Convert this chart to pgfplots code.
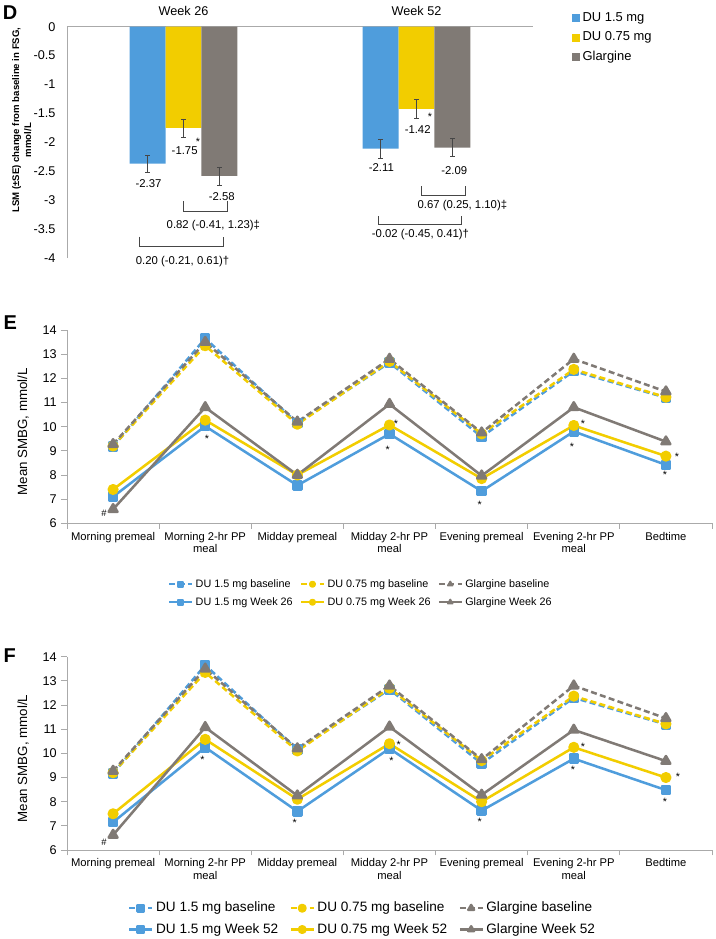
\documentclass[border=0pt]{standalone}
\usepackage{pgfplots}
\pgfplotsset{compat=1.18}
\usepackage{fontspec}
\setmainfont{Liberation Sans}
\definecolor{dublue}{RGB}{79,157,220}
\definecolor{duyel}{RGB}{242,205,0}
\definecolor{glgray}{RGB}{128,122,117}
\definecolor{axgray}{RGB}{170,170,170}
\definecolor{ebar}{RGB}{70,70,70}
\newcommand\fs[1]{\fontsize{#1}{#1}\selectfont}
\tikzset{
  star/.style={font=\fs{8}, inner sep=0pt, yshift=-2pt},
  lbl/.style={font=\fs{8.5}, inner sep=0pt},
  brk/.style={draw=ebar, line width=0.5pt},
}
\pgfplotsset{
  /pgf/number format/assume math mode=true,
  base/.style={line width=1.9pt, line join=round, dash pattern=on 4.5pt off 2.5pt, mark options={solid}},
  wk/.style={line width=1.9pt, line join=round},
  bsq/.style={color=dublue, mark=square*, mark size=3pt},
  ycir/.style={color=duyel, mark=*, mark size=3.2pt},
  gtri/.style={color=glgray, mark=triangle*, mark size=3.8pt},
  linechart/.style={
    scale only axis, width=483.75pt, height=144.975pt, anchor=south west,
    xmin=-0.5, xmax=6.5, ymin=6, ymax=14,
    axis x line*=bottom, axis y line*=left,
    axis line style={axgray, line width=0.7pt},
    xtick={0,...,6},
    xticklabels={Morning premeal,{Morning 2-hr PP\\meal},Midday premeal,{Midday 2-hr PP\\meal},Evening premeal,{Evening 2-hr PP\\meal},Bedtime},
    xticklabel style={align=center, font=\fontsize{8.4}{9.6}\selectfont, inner sep=0pt, yshift=-1.8pt},
    minor xtick={-0.5,0.5,...,6.5},
    major x tick style={draw=none},
    tick align=outside,
    major tick length=4.5pt, minor tick length=4pt,
    tick style={axgray, line width=0.7pt},
    ytick={6,...,14},
    yticklabel style={font=\fs{9.5}, inner sep=0pt, xshift=-3pt},
    ylabel={Mean SMBG, mmol/L},
    ylabel style={font=\fs{10}, at={(axis description cs:-0.068,0.474)}, anchor=center},
    clip=false,
    legend columns=3, legend cell align=left,
  },
}
\begin{document}
\begin{tikzpicture}
\useasboundingbox (0,0) rectangle (536.25pt,-704.25pt);
\node[anchor=north west, inner sep=0pt, font=\bfseries\fs{15}] at (2pt,-4pt) {D};
\node[anchor=north west, inner sep=0pt, font=\bfseries\fs{15}] at (2.5pt,-236.5pt) {E};
\node[anchor=north west, inner sep=0pt, font=\bfseries\fs{15}] at (2.5pt,-486pt) {F};
% y label of panel D
\node[rotate=90, font=\bfseries\fs{7.2}, inner sep=0pt] at (12.5pt,-90pt) {LSM (±SE) change from baseline in FSG,};
\node[rotate=90, font=\bfseries\fs{7.2}, inner sep=0pt] at (20.8pt,-105pt) {mmol/L};

% ---------------- Panel D ----------------
\begin{axis}[
  at={(50.25pt,-193.5pt)}, anchor=south west,
  scale only axis, width=349.5pt, height=173.475pt,
  xmin=-0.5, xmax=1.5, ymin=-4, ymax=0,
  axis x line*=top, axis y line*=left,
  axis line style={axgray, line width=0.7pt},
  xtick=\empty, ytick={-4,-3.5,...,0},
  major tick length=0pt,
  yticklabel style={font=\fs{9.5}, inner sep=0pt, xshift=-8.5pt},
  clip=false,
  legend cell align=left,
  legend style={at={(1.083,1.0636)}, anchor=north west, draw=none, fill=none,
    font=\fs{9.7}, inner sep=0pt, row sep=5.5pt,
    nodes={inner sep=0pt, text height=7pt, text depth=2pt},
    /tikz/every odd column/.append style={column sep=2pt}},
]
\addplot[ybar, bar width=0.154, bar shift=0pt, fill=dublue, draw=none,
  legend image code/.code={\fill[dublue] (0pt,-3pt) rectangle (6pt,3pt);},
  error bars/.cd, y dir=both, y explicit, error bar style={ebar, line width=0.6pt, mark size=1.6pt}]
  coordinates {(-0.154,-2.37) +- (0,0.15) (0.846,-2.11) +- (0,0.16)};
\addlegendentry{DU 1.5 mg}
\addplot[ybar, bar width=0.154, bar shift=0pt, fill=duyel, draw=none,
  legend image code/.code={\fill[duyel] (0pt,-3pt) rectangle (6pt,3pt);},
  error bars/.cd, y dir=both, y explicit, error bar style={ebar, line width=0.6pt, mark size=1.6pt}]
  coordinates {(0,-1.75) +- (0,0.155) (1,-1.42) +- (0,0.16)};
\addlegendentry{DU 0.75 mg}
\addplot[ybar, bar width=0.154, bar shift=0pt, fill=glgray, draw=none,
  legend image code/.code={\fill[glgray] (0pt,-3pt) rectangle (6pt,3pt);},
  error bars/.cd, y dir=both, y explicit, error bar style={ebar, line width=0.6pt, mark size=1.6pt}]
  coordinates {(0.154,-2.58) +- (0,0.155) (1.154,-2.09) +- (0,0.155)};
\addlegendentry{Glargine}
\node[font=\fs{9.5}] at (axis cs:0,0.27) {Week 26};
\node[font=\fs{9.5}] at (axis cs:1,0.27) {Week 52};
\node[lbl] at (axis cs:-0.150,-2.72) {-2.37};
\node[lbl] at (axis cs:0.005,-2.15) {-1.75};
\node[star] at (axis cs:0.062,-1.95) {*};
\node[lbl] at (axis cs:0.164,-2.93) {-2.58};
\node[lbl] at (axis cs:0.849,-2.44) {-2.11};
\node[lbl] at (axis cs:1.005,-1.78) {-1.42};
\node[star] at (axis cs:1.058,-1.52) {*};
\node[lbl] at (axis cs:1.162,-2.48) {-2.09};
\draw[brk] (axis cs:0,-3.02) -- (axis cs:0,-3.20) -- (axis cs:0.188,-3.20) -- (axis cs:0.188,-3.02);
\node[lbl] at (axis cs:0.128,-3.44) {0.82 (-0.41, 1.23)‡};
\draw[brk] (axis cs:-0.188,-3.63) -- (axis cs:-0.188,-3.80) -- (axis cs:0.171,-3.80) -- (axis cs:0.171,-3.63);
\node[lbl] at (axis cs:-0.004,-4.06) {0.20 (-0.21, 0.61)†};
\draw[brk] (axis cs:1.021,-2.76) -- (axis cs:1.021,-2.92) -- (axis cs:1.209,-2.92) -- (axis cs:1.209,-2.76);
\node[lbl] at (axis cs:1.197,-3.09) {0.67 (0.25, 1.10)‡};
\draw[brk] (axis cs:0.838,-3.28) -- (axis cs:0.838,-3.42) -- (axis cs:1.192,-3.42) -- (axis cs:1.192,-3.28);
\node[lbl] at (axis cs:1.017,-3.59) {-0.02 (-0.45, 0.41)†};
\end{axis}

% ---------------- Panel E ----------------
\begin{axis}[linechart, at={(50.25pt,-392.475pt)},
  legend style={at={(0.1566,-0.281)}, anchor=north west, draw=none, fill=none,
    font=\fs{8.1}, inner sep=0pt, row sep=4pt,
    nodes={inner sep=0.5pt, text height=6.5pt, text depth=2pt},
    /tikz/every odd column/.append style={column sep=1.5pt},
    /tikz/every even column/.append style={column sep=5pt}},
  legend image post style={mark size=1.9pt, line width=1.5pt},
]
\addplot[base, bsq] coordinates {(0,9.17) (1,13.65) (2,10.15) (3,12.65) (4,9.58) (5,12.3) (6,11.2)};
\addlegendentry{DU 1.5 mg baseline}
\addplot[base, ycir] coordinates {(0,9.2) (1,13.35) (2,10.1) (3,12.7) (4,9.7) (5,12.37) (6,11.22)};
\addlegendentry{DU 0.75 mg baseline}
\addplot[base, gtri] coordinates {(0,9.27) (1,13.5) (2,10.2) (3,12.8) (4,9.75) (5,12.8) (6,11.45)};
\addlegendentry{Glargine baseline}
\addplot[wk, bsq] coordinates {(0,7.1) (1,10.02) (2,7.57) (3,9.7) (4,7.33) (5,9.8) (6,8.42)};
\addlegendentry{DU 1.5 mg Week 26}
\addplot[wk, ycir] coordinates {(0,7.4) (1,10.27) (2,8.0) (3,10.07) (4,7.85) (5,10.05) (6,8.78)};
\addlegendentry{DU 0.75 mg Week 26}
\addplot[wk, gtri] coordinates {(0,6.58) (1,10.8) (2,8.0) (3,10.93) (4,7.97) (5,10.8) (6,9.38)};
\addlegendentry{Glargine Week 26}
\node[star] at (axis cs:1.02,9.59) {*};
\node[star] at (axis cs:3.07,10.21) {*};
\node[star] at (axis cs:2.98,9.17) {*};
\node[star] at (axis cs:3.98,6.86) {*};
\node[star] at (axis cs:5.10,10.21) {*};
\node[star] at (axis cs:4.98,9.28) {*};
\node[star] at (axis cs:6.12,8.87) {*};
\node[star] at (axis cs:5.99,8.11) {*};
\node[font=\fs{7}, inner sep=0pt] at (axis cs:-0.10,6.43) {\#};
\end{axis}

% ---------------- Panel F ----------------
\begin{axis}[linechart, at={(50.25pt,-637.5pt)},
  legend style={at={(0.0946,-0.26)}, anchor=north west, draw=none, fill=none,
    font=\fs{10.2}, inner sep=0pt, row sep=4.5pt,
    nodes={inner sep=0.5pt, text height=8pt, text depth=2.5pt},
    /tikz/every odd column/.append style={column sep=1.5pt},
    /tikz/every even column/.append style={column sep=8pt}},
  legend image post style={mark size=2.5pt, line width=1.8pt},
]
\addplot[base, bsq] coordinates {(0,9.17) (1,13.65) (2,10.15) (3,12.65) (4,9.58) (5,12.3) (6,11.2)};
\addlegendentry{DU 1.5 mg baseline}
\addplot[base, ycir] coordinates {(0,9.2) (1,13.35) (2,10.1) (3,12.7) (4,9.7) (5,12.37) (6,11.22)};
\addlegendentry{DU 0.75 mg baseline}
\addplot[base, gtri] coordinates {(0,9.27) (1,13.5) (2,10.2) (3,12.8) (4,9.75) (5,12.8) (6,11.45)};
\addlegendentry{Glargine baseline}
\addplot[wk, bsq] coordinates {(0,7.15) (1,10.25) (2,7.6) (3,10.2) (4,7.63) (5,9.78) (6,8.48)};
\addlegendentry{DU 1.5 mg Week 52}
\addplot[wk, ycir] coordinates {(0,7.5) (1,10.58) (2,8.1) (3,10.4) (4,8.0) (5,10.25) (6,9.0)};
\addlegendentry{DU 0.75 mg Week 52}
\addplot[wk, gtri] coordinates {(0,6.62) (1,11.08) (2,8.25) (3,11.1) (4,8.28) (5,10.97) (6,9.68)};
\addlegendentry{Glargine Week 52}
\node[star] at (axis cs:0.97,9.86) {*};
\node[star] at (axis cs:1.97,7.24) {*};
\node[star] at (axis cs:3.10,10.48) {*};
\node[star] at (axis cs:3.02,9.80) {*};
\node[star] at (axis cs:3.98,7.29) {*};
\node[star] at (axis cs:5.10,10.39) {*};
\node[star] at (axis cs:4.99,9.41) {*};
\node[star] at (axis cs:6.13,9.15) {*};
\node[star] at (axis cs:5.99,8.10) {*};
\node[font=\fs{7}, inner sep=0pt] at (axis cs:-0.10,6.30) {\#};
\end{axis}
\end{tikzpicture}
\end{document}
